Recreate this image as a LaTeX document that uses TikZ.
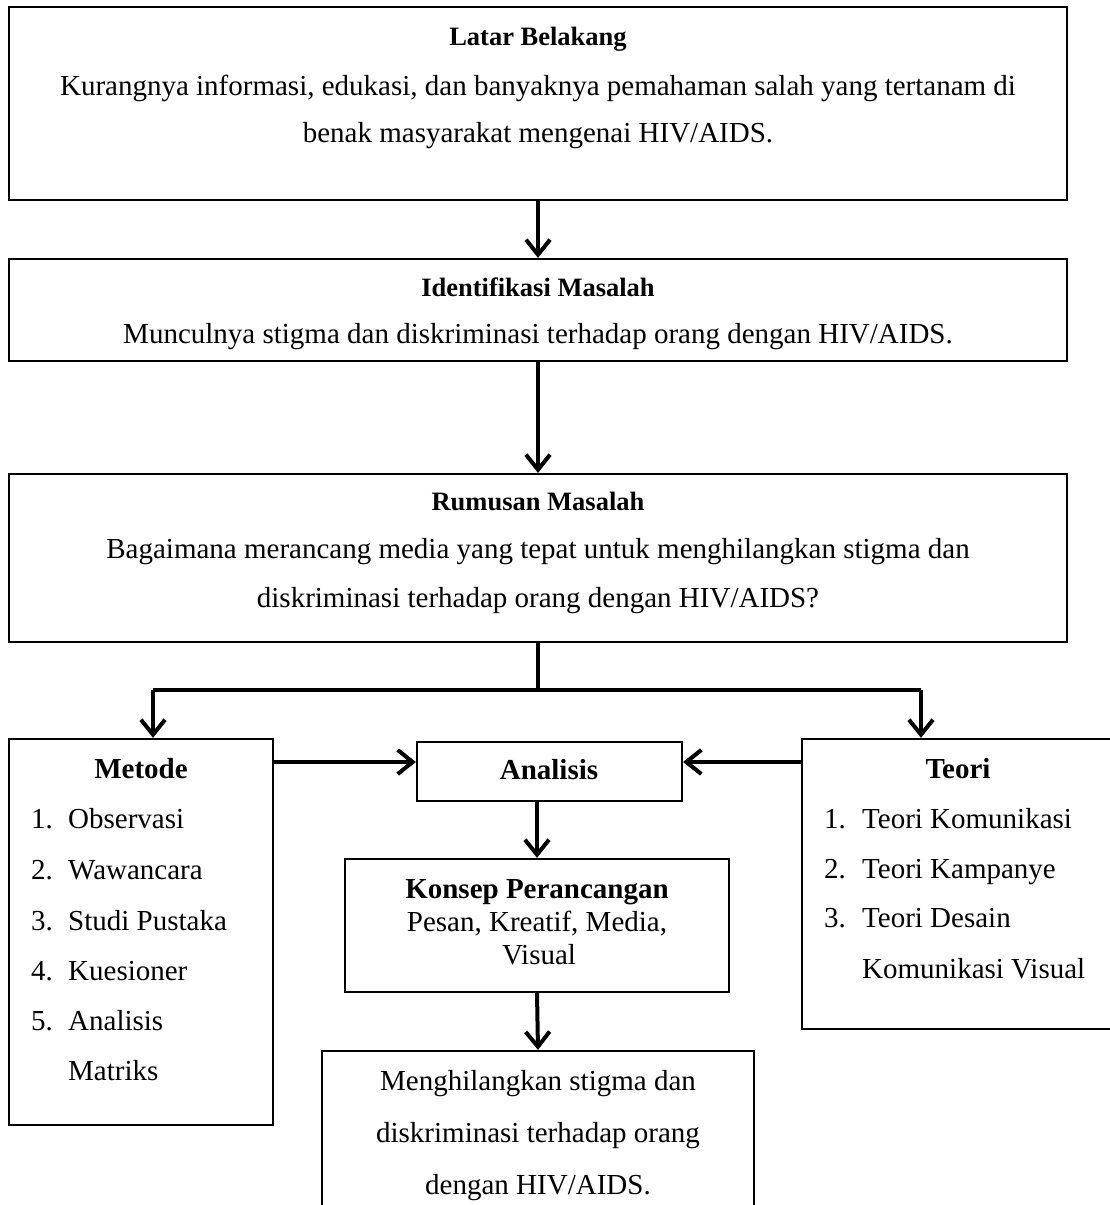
\documentclass[tikz,border=0pt]{standalone}
\usepackage{fontspec}
\setmainfont{Liberation Serif}
\usetikzlibrary{arrows.meta}
\tikzset{
  box/.style={draw, line width=2.2pt, inner sep=0pt},
  conn/.style={line width=4pt},
  arr/.style={conn, -{Straight Barb[length=15pt,width=24pt]}},
  body/.style={anchor=base, inner sep=0pt, font=\fontsize{29}{33}\selectfont},
  bodyw/.style={body, anchor=base west},
  head/.style={anchor=base, inner sep=0pt, font=\fontsize{26.5}{30}\selectfont\bfseries},
  bhead/.style={anchor=base, inner sep=0pt, font=\fontsize{29}{33}\selectfont\bfseries}
}
\begin{document}
\begin{tikzpicture}[x=1pt,y=-1pt]
\useasboundingbox (0,0) rectangle (1110,1205);
\clip (0,0) rectangle (1110,1205);
\fill[white] (0,0) rectangle (1110,1205);
% boxes
\node[box, minimum width=1058pt, minimum height=193pt] (lb) at (538,103.5) {};
\node[box, minimum width=1058pt, minimum height=102pt] (im) at (538,310) {};
\node[box, minimum width=1058pt, minimum height=168pt] (rm) at (538,558) {};
\node[box, minimum width=264pt, minimum height=386pt] (metode) at (141,932) {};
\node[box, minimum width=265pt, minimum height=59pt] (analisis) at (549.5,771.5) {};
\node[box, minimum width=314pt, minimum height=290pt] (teori) at (959,884) {};
\node[box, minimum width=384pt, minimum height=133pt] (konsep) at (537,925.5) {};
\node[box, minimum width=432pt, minimum height=164pt] (final) at (538,1133) {};
% texts
\node[head] (lbh) at (538,45) {Latar Belakang};
\node[body] (lb1) at (538,95) {Kurangnya informasi, edukasi, dan banyaknya pemahaman salah yang tertanam di};
\node[body] (lb2) at (538,142) {benak masyarakat mengenai HIV/AIDS.};
\node[head] (imh) at (538,296) {Identifikasi Masalah};
\node[body] (im1) at (538,343) {Munculnya stigma dan diskriminasi terhadap orang dengan HIV/AIDS.};
\node[head] (rmh) at (538,510) {Rumusan Masalah};
\node[body] (rm1) at (538,558) {Bagaimana merancang media yang tepat untuk menghilangkan stigma dan};
\node[body] (rm2) at (538,607) {diskriminasi terhadap orang dengan HIV/AIDS?};
\node[bhead] (mh) at (141,778) {Metode};
\node[bodyw] (mn1) at (31,828) {1.};
\node[bodyw] (mi1) at (68,828) {Observasi};
\node[bodyw] (mn2) at (31,879) {2.};
\node[bodyw] (mi2) at (68,879) {Wawancara};
\node[bodyw] (mn3) at (31,930) {3.};
\node[bodyw] (mi3) at (68,930) {Studi Pustaka};
\node[bodyw] (mn4) at (31,980) {4.};
\node[bodyw] (mi4) at (68,980) {Kuesioner};
\node[bodyw] (mn5) at (31,1030) {5.};
\node[bodyw] (mi5) at (68,1030) {Analisis};
\node[bodyw] (mi6) at (68,1080) {Matriks};
\node[bhead] (ah) at (549,779) {Analisis};
\node[bhead] (th) at (958,778) {Teori};
\node[bodyw] (tn1) at (824,828) {1.};
\node[bodyw] (ti1) at (862,828) {Teori Komunikasi};
\node[bodyw] (tn2) at (824,878) {2.};
\node[bodyw] (ti2) at (862,878) {Teori Kampanye};
\node[bodyw] (tn3) at (824,927) {3.};
\node[bodyw] (ti3) at (862,927) {Teori Desain};
\node[bodyw] (ti4) at (862,978) {Komunikasi Visual};
\node[bhead] (kh) at (537,898) {Konsep Perancangan};
\node[body] (k1) at (537,931) {Pesan, Kreatif, Media,};
\node[body] (k2) at (539,964) {Visual};
\node[body] (f1) at (538,1090) {Menghilangkan stigma dan};
\node[body] (f2) at (538,1142) {diskriminasi terhadap orang};
\node[body] (f3) at (538,1194) {dengan HIV/AIDS.};
% connectors
\coordinate (j) at (538,690);
\coordinate (bl) at (153,690);
\coordinate (brr) at (921,690);
\coordinate (ay) at (0,762);
\draw[arr] (lb.south) -- (im.north);
\draw[arr] (im.south) -- (rm.north);
\draw[conn] (rm.south) -- (j);
\draw[conn] (bl) -- (brr);
\draw[arr] (bl) -- (metode.north -| bl);
\draw[arr] (brr) -- (teori.north -| brr);
\draw[arr] (metode.east |- ay) -- (analisis.west |- ay);
\draw[arr] (teori.west |- ay) -- (analisis.east |- ay);
\draw[arr] (konsep.north |- analisis.south) -- (konsep.north);
\draw[arr] (konsep.south) -- (final.north);
\end{tikzpicture}
\end{document}
